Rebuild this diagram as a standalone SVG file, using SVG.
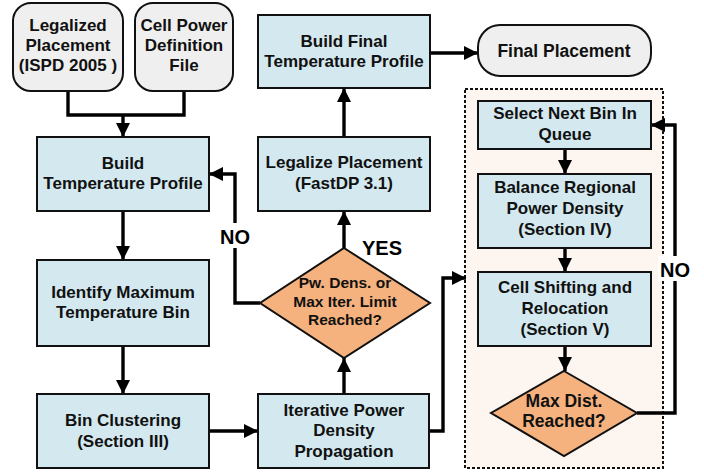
<svg xmlns="http://www.w3.org/2000/svg" width="704" height="472" viewBox="0 0 704 472">
  <style>
    .box { fill: #d3e9ef; stroke: #111; stroke-width: 2; }
    .term { fill: #efefef; stroke: #111; stroke-width: 2; }
    .dec { fill: #f6b27e; stroke: #111; stroke-width: 2; }
    .wire { fill: none; stroke: #000; stroke-width: 3.4; stroke-linejoin: miter; }
    text { font-family: "Liberation Sans", Arial, Helvetica, sans-serif; font-weight: bold; font-size: 17px; fill: #111; text-anchor: middle; }
    .small { font-size: 15.5px; }
    .mid { font-size: 17.5px; }
    .lbl { font-size: 20px; fill: #000; }
  </style>
  <defs>
    <marker id="arrow" viewBox="0 0 14 14" refX="14" refY="7" markerWidth="14" markerHeight="14" markerUnits="userSpaceOnUse" orient="auto">
      <path d="M0,0 L14,7 L0,14 Z" fill="#000"/>
    </marker>
  </defs>

  <rect width="704" height="472" fill="#fff"/>

  <!-- loop region around the per-bin steps -->
  <g id="region">
    <rect x="465" y="89" width="198" height="379" fill="#fdf5f0" stroke="#111" stroke-width="2" stroke-dasharray="3 2"/>
  </g>

  <!-- connectors -->
  <g id="connectors">
    <path class="wire" d="M68,91 V115 H184 V91"/>
    <path class="wire" d="M123,115 V137" marker-end="url(#arrow)"/>
    <path class="wire" d="M123,211 V260" marker-end="url(#arrow)"/>
    <path class="wire" d="M123,346 V394" marker-end="url(#arrow)"/>
    <path class="wire" d="M209,431 H258" marker-end="url(#arrow)"/>
    <path class="wire" d="M344,394 V358" marker-end="url(#arrow)"/>
    <path class="wire" d="M344,248 V211" marker-end="url(#arrow)"/>
    <path class="wire" d="M344,137 V88" marker-end="url(#arrow)"/>
    <path class="wire" d="M430,53 H478" marker-end="url(#arrow)"/>
    <path class="wire" d="M260,303 H235 V174 H209" marker-end="url(#arrow)"/>
    <path class="wire" d="M429,431 H443 V278 H466" marker-end="url(#arrow)"/>
    <path class="wire" d="M565,149 V174" marker-end="url(#arrow)"/>
    <path class="wire" d="M565,248 V272" marker-end="url(#arrow)"/>
    <path class="wire" d="M565,346 V371" marker-end="url(#arrow)"/>
    <path class="wire" d="M637,413 H675 V125 H651" marker-end="url(#arrow)"/>
    <!-- branch labels -->
    <rect x="218" y="223" width="34" height="25" fill="#fff"/>
    <text class="lbl" x="235" y="244">NO</text>
    <text class="lbl" x="382" y="255">YES</text>
    <rect x="658" y="256" width="34" height="25" fill="#fff"/>
    <text class="lbl" x="675" y="277">NO</text>
  </g>

  <g id="legalized-placement">
    <rect class="term" x="13" y="3" width="110" height="88" rx="18"/>
    <text x="68" y="31">Legalized</text>
    <text x="68" y="51">Placement</text>
    <text x="68" y="71">(ISPD 2005 )</text>
  </g>

  <g id="cell-power">
    <rect class="term" x="135" y="3" width="98" height="88" rx="18"/>
    <text x="184" y="31">Cell Power</text>
    <text x="184" y="51">Definition</text>
    <text x="184" y="71">File</text>
  </g>

  <g id="build-temp">
    <rect class="box" x="37" y="137" width="172" height="74"/>
    <text x="123" y="169">Build</text>
    <text x="123" y="189">Temperature Profile</text>
  </g>

  <g id="identify-max">
    <rect class="box" x="37" y="260" width="172" height="86"/>
    <text x="123" y="298">Identify Maximum</text>
    <text x="123" y="318">Temperature Bin</text>
  </g>

  <g id="bin-clustering">
    <rect class="box" x="37" y="394" width="172" height="74"/>
    <text x="123" y="426">Bin Clustering</text>
    <text x="123" y="447">(Section III)</text>
  </g>

  <g id="iterative-propagation">
    <rect class="box" x="258" y="394" width="171" height="74"/>
    <text x="344" y="416">Iterative Power</text>
    <text x="344" y="436">Density</text>
    <text x="344" y="457">Propagation</text>
  </g>

  <g id="limit-check">
    <polygon class="dec" points="344,248 430,303 344,358 260,303"/>
    <text class="small" x="345" y="288">Pw. Dens. or</text>
    <text class="small" x="345" y="307">Max Iter. Limit</text>
    <text class="small" x="345" y="325">Reached?</text>
  </g>

  <g id="legalize">
    <rect class="box" x="258" y="137" width="172" height="74"/>
    <text x="344" y="168">Legalize Placement</text>
    <text x="344" y="189">(FastDP 3.1)</text>
  </g>

  <g id="build-final">
    <rect class="box" x="258" y="15" width="172" height="73"/>
    <text x="344" y="47">Build Final</text>
    <text x="344" y="67">Temperature Profile</text>
  </g>

  <g id="final-placement">
    <rect class="term" x="478" y="25" width="173" height="51" rx="22"/>
    <text class="mid" x="564" y="57">Final Placement</text>
  </g>

  <g id="select-bin">
    <rect class="box" x="478" y="101" width="173" height="48"/>
    <text x="565" y="119">Select Next Bin In</text>
    <text x="565" y="140">Queue</text>
  </g>

  <g id="balance-density">
    <rect class="box" x="478" y="174" width="173" height="74"/>
    <text x="565" y="193">Balance Regional</text>
    <text x="565" y="214">Power Density</text>
    <text x="565" y="235">(Section IV)</text>
  </g>

  <g id="cell-shifting">
    <rect class="box" x="478" y="272" width="173" height="74"/>
    <text x="565" y="293">Cell Shifting and</text>
    <text x="565" y="314">Relocation</text>
    <text x="565" y="335">(Section V)</text>
  </g>

  <g id="max-dist">
    <polygon class="dec" points="564,371 637,413 564,456 491,413"/>
    <text class="mid" x="564" y="407">Max Dist.</text>
    <text class="mid" x="564" y="427">Reached?</text>
  </g>
</svg>
